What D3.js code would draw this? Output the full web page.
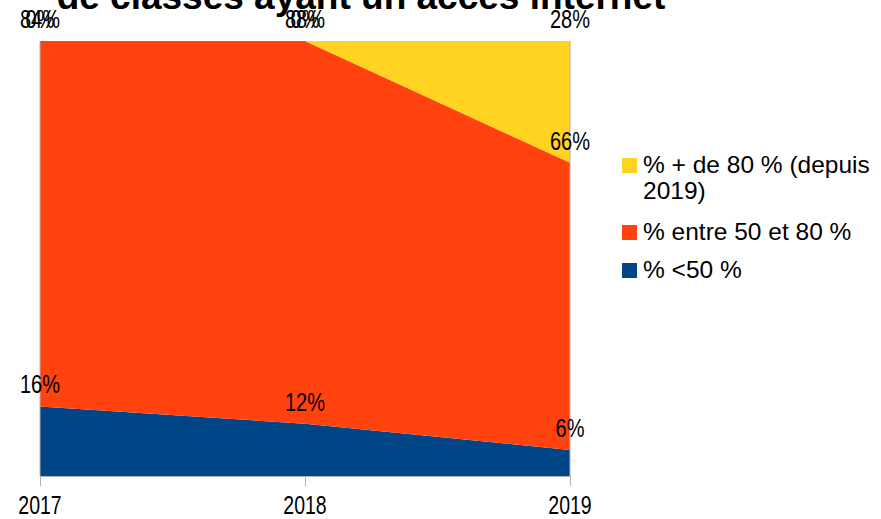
<!DOCTYPE html>
<html>
<head>
<meta charset="utf-8">
<script src="https://cdn.jsdelivr.net/npm/d3@7"></script>
<style>
  body { margin: 0; background: #fff; }
  text { font-family: "Liberation Sans", Arial, sans-serif; }
</style>
</head>
<body>
<svg class="chart" width="881" height="519"></svg>
<script>
/* data */
var years = ["2017", "2018", "2019"];
var seriesKeys = ["low", "mid", "high"];
var seriesNames = ["% <50 %", "% entre 50 et 80 %", "% + de 80 % (depuis 2019)"];
var lowValues = [16, 12, 6];
var midValues = [84, 88, 66];
var highValues = [0, 0, 28];
var colors = ["#004586", "#ff420e", "#ffd320"];

var svg = d3.select(".chart"),
    margin = {top: 41, left: 40},
    width = 530,
    height = 435;

var rows = years.map(function(y, i) {
  return {year: y, low: lowValues[i], mid: midValues[i], high: highValues[i]};
});

var x = d3.scalePoint().domain(years).range([0, width]),
    y = d3.scaleLinear().domain([0, 100]).range([height, 0]);

var stack = d3.stack().keys(seriesKeys);
var layers = stack(rows);

var g = svg.append("g")
    .attr("transform", "translate(" + margin.left + "," + margin.top + ")");

var area = d3.area()
    .x(function(d) { return x(d.data.year); })
    .y0(function(d) { return y(d[0]); })
    .y1(function(d) { return y(d[1]); });

g.selectAll(".layer")
  .data(layers)
  .enter().append("path")
    .attr("class", "layer")
    .attr("fill", function(d, i) { return colors[i]; })
    .attr("d", area);

/* light frame lines at the plot edges */
g.append("line").attr("x1", 0).attr("x2", 0).attr("y1", 0).attr("y2", height)
  .attr("stroke", "#b3b3b3").attr("stroke-width", 1);
g.append("line").attr("x1", width).attr("x2", width).attr("y1", 0).attr("y2", height)
  .attr("stroke", "#b3b3b3").attr("stroke-width", 1);

/* x axis, labels squeezed like the condensed font of the original */
var xAxis = g.append("g")
    .attr("transform", "translate(0," + height + ")")
    .call(d3.axisBottom(x).tickSize(10).tickSizeOuter(0).tickFormat(""));
xAxis.select(".domain").attr("stroke", "#b3b3b3");
xAxis.selectAll(".tick line").attr("stroke", "#b3b3b3");

g.selectAll(".xlabel")
  .data(years)
  .enter().append("text")
    .attr("class", "xlabel")
    .attr("transform", function(d) { return "translate(" + x(d) + "," + (height + 38) + ") scale(0.78,1)"; })
    .attr("text-anchor", "middle")
    .style("font-size", "25px")
    .attr("fill", "#000")
    .text(function(d) { return d; });

/* value labels at the top of each layer */
layers.forEach(function(layer, li) {
  g.selectAll(".lbl" + li)
    .data(layer)
    .enter().append("text")
      .attr("transform", function(d) {
        return "translate(" + x(d.data.year) + "," + (y(d[1]) - 13) + ") scale(0.8,1)";
      })
      .attr("text-anchor", "middle")
      .style("font-size", "25px")
      .attr("fill", "#000")
      .text(function(d) { return (d[1] - d[0]) + "%"; });
});

/* title, only the second line shows at the top edge */
svg.append("text")
    .attr("x", 361)
    .attr("y", 9)
    .attr("text-anchor", "middle")
    .style("font-size", "37px")
    .style("font-weight", "bold")
    .text("de classes ayant un accès internet");

/* legend */
var legendItems = [
  {lines: ["% + de 80 % (depuis", "2019)"], color: colors[2], y: 165},
  {lines: ["% entre 50 et 80 %"], color: colors[1], y: 232},
  {lines: ["% <50 %"], color: colors[0], y: 270}
];

var legend = svg.selectAll(".legend")
  .data(legendItems)
  .enter().append("g")
    .attr("class", "legend")
    .attr("transform", function(d) { return "translate(622," + d.y + ")"; });

legend.append("rect")
    .attr("x", 0).attr("y", -7)
    .attr("width", 15).attr("height", 15)
    .attr("fill", function(d) { return d.color; });

legend.append("text")
    .attr("x", 21)
    .attr("y", 8)
    .style("font-size", "24.5px")
    .attr("fill", "#000")
    .selectAll("tspan")
    .data(function(d) { return d.lines; })
    .enter().append("tspan")
      .attr("x", 21)
      .attr("dy", function(d, i) { return i === 0 ? 0 : 26; })
      .text(function(d) { return d; });
</script>
</body>
</html>
